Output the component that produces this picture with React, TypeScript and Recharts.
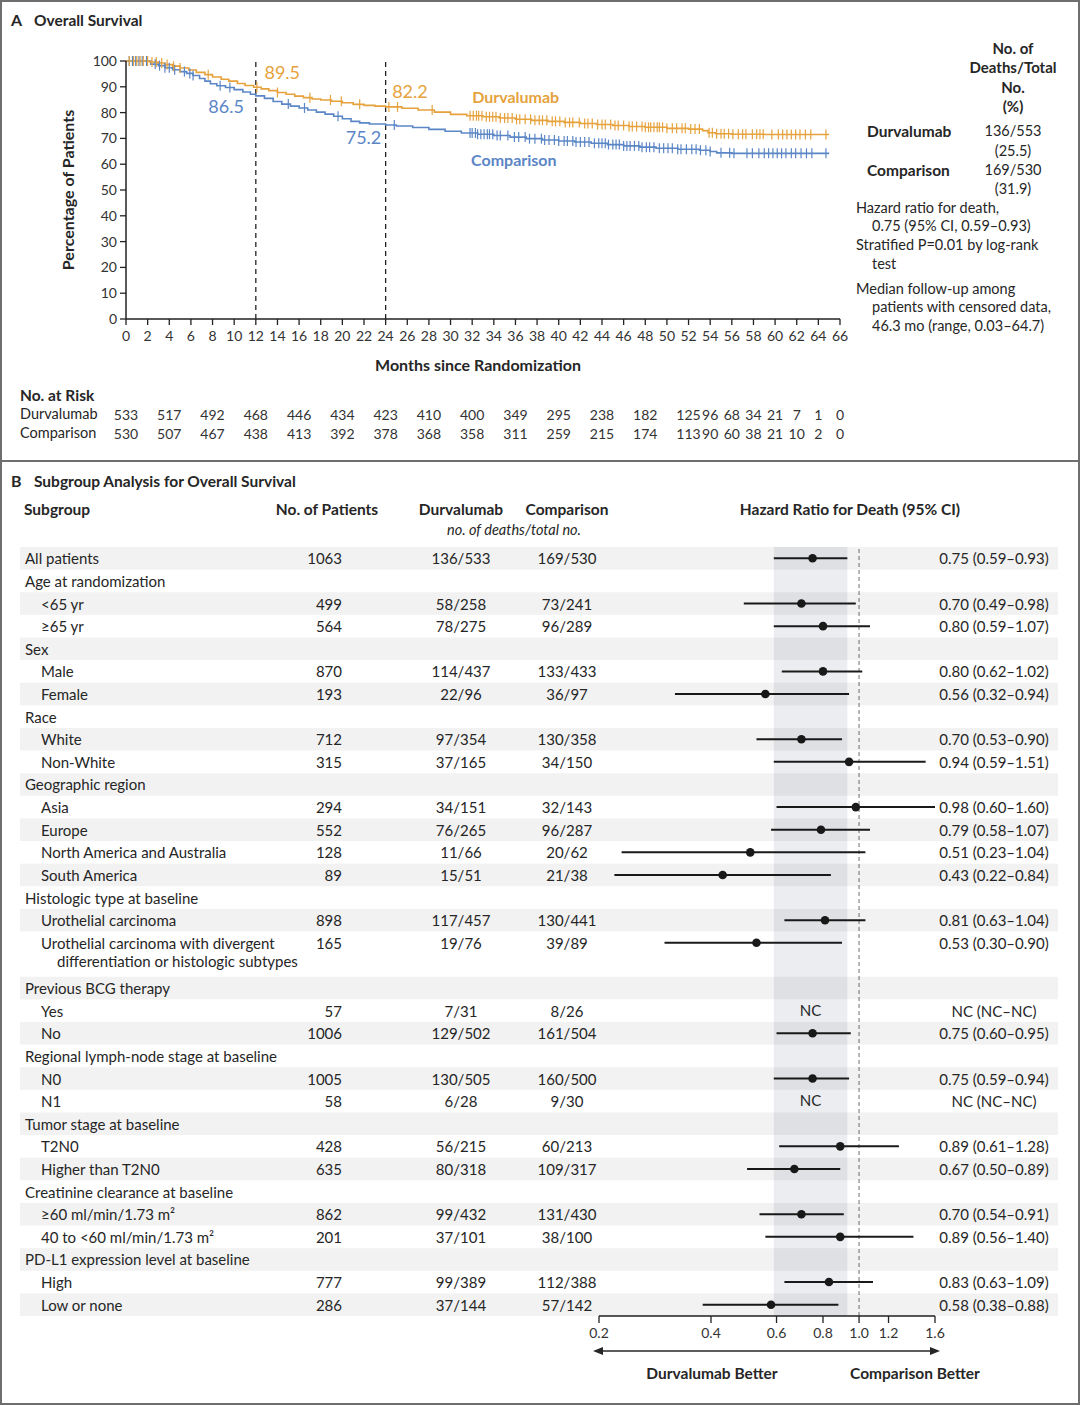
import React from "react";
import {
  ComposedChart,
  Line,
  Scatter,
  XAxis,
  YAxis,
  ReferenceLine,
  ReferenceDot,
  ReferenceArea,
  ErrorBar,
} from "recharts";

const FONT = "Lato, 'Open Sans', sans-serif";
const ORANGE = "#E6A23C";
const BLUE = "#5B86C6";
const INK = "#262626";

// ---- Panel A: Kaplan-Meier curves (month, % alive) ----
const durvaMonths = [0, 1.5, 2.2, 3, 3.6, 4.3, 5, 5.8, 6.5, 7.3, 8, 8.8, 9.5, 10.3, 11, 11.8, 12.5, 13.2, 14, 14.8, 15.6, 16.4, 17.2, 18, 19, 20, 21, 22, 23, 24, 25.5, 27, 28.5, 30, 31.5, 33, 34.5, 36, 37.5, 39, 40.5, 42, 43.5, 45, 46.5, 48, 50, 52, 53.3, 53.8, 54.5, 56, 59, 65];
const durvaSurv = [100, 100, 99.6, 99.2, 98.6, 98, 97.3, 96.5, 95.6, 94.7, 93.8, 92.9, 92.2, 91.3, 90.5, 89.8, 89.2, 88.5, 87.8, 87.1, 86.4, 85.8, 85.3, 84.9, 84.4, 83.8, 83.2, 82.8, 82.5, 82.2, 81.7, 81, 80.2, 79.3, 78.8, 78.4, 77.9, 77.4, 77, 76.6, 76.2, 75.8, 75.4, 75, 74.6, 74.3, 73.9, 73.6, 73, 72.2, 71.8, 71.6, 71.5, 71.5];
const compMonths = [0, 1.8, 2.3, 3, 3.6, 4.3, 5, 5.6, 6.2, 6.8, 7.3, 7.8, 8.4, 9.2, 10, 10.8, 11.5, 12, 12.8, 13.6, 14.4, 15.2, 16, 16.8, 17.6, 18.4, 19.2, 20, 20.8, 21.6, 22.5, 24, 25, 26.5, 28, 29.5, 31, 32.5, 34, 35.5, 37, 38.5, 40, 41.5, 43, 44.5, 46, 47.5, 49, 51, 53, 54, 54.6, 56, 65];
const compSurv = [100, 100, 98.8, 98.2, 97.4, 96.6, 95.9, 95.2, 94.4, 93.2, 92.2, 91.2, 90.4, 89.7, 88.9, 88, 87.1, 86.5, 85.5, 84.3, 83.3, 82.5, 81.8, 81, 80.2, 79.4, 78.6, 77.6, 76.6, 76, 75.6, 75.2, 74.8, 74.2, 73.5, 72.8, 72.1, 71.6, 71.1, 70.5, 69.9, 69.4, 69, 68.6, 68.1, 67.6, 67.1, 66.6, 66.2, 65.8, 65.4, 64.9, 64.4, 64.2, 64.2];

// censored observations (months)
const durvaCensor = [0.3, 0.7, 1.0, 1.3, 1.6, 2.0, 2.4, 2.8, 3.3, 3.8, 4.4, 5.0, 7.6, 12.1, 14.0, 17.0, 18.9, 19.9, 21.6, 24.3, 25.1, 28.3, 31.8, 32.1, 32.4, 32.6, 32.9, 33.3, 33.6, 33.9, 34.2, 34.6, 35.0, 35.3, 35.7, 36.1, 36.4, 36.9, 37.4, 37.8, 38.2, 38.5, 38.9, 39.4, 39.7, 40.1, 40.6, 41.0, 41.3, 41.9, 42.4, 42.7, 43.1, 43.6, 44.0, 44.3, 44.8, 45.2, 45.5, 46.0, 46.5, 46.8, 47.2, 47.7, 48.0, 48.3, 48.5, 48.8, 49.1, 49.3, 49.6, 50.0, 50.5, 50.9, 51.4, 51.7, 52.2, 52.6, 53.0, 53.9, 54.2, 54.6, 55.0, 55.3, 55.7, 56.1, 56.6, 57.0, 57.3, 57.9, 58.3, 58.6, 58.9, 59.7, 60.3, 60.7, 61.1, 61.5, 61.9, 62.3, 62.8, 63.3, 64.7];
const compCensor = [0.3, 0.6, 0.9, 1.2, 1.5, 1.9, 2.7, 3.1, 3.6, 4.0, 4.5, 5.4, 5.9, 6.2, 8.7, 9.6, 15.0, 16.5, 19.6, 24.8, 31.8, 32.0, 32.3, 32.5, 32.8, 33.1, 33.4, 33.6, 33.9, 34.3, 34.6, 35.3, 35.9, 36.3, 36.9, 37.3, 37.8, 38.4, 38.7, 39.1, 39.6, 40.0, 40.5, 40.8, 41.3, 41.6, 42.0, 42.4, 42.8, 43.3, 43.7, 44.0, 44.3, 44.6, 45.0, 45.3, 45.6, 46.0, 46.3, 46.6, 47.0, 47.4, 47.7, 48.1, 48.4, 48.8, 49.3, 49.7, 50.1, 50.5, 51.0, 51.3, 51.8, 52.3, 52.7, 53.1, 53.6, 54.0, 55.0, 55.8, 56.2, 57.4, 57.9, 58.5, 59.0, 59.4, 59.8, 60.2, 60.6, 61.0, 61.5, 61.9, 62.4, 62.9, 63.4, 64.7];

const monthTicks = [0, 2, 4, 6, 8, 10, 12, 14, 16, 18, 20, 22, 24, 26, 28, 30, 32, 34, 36, 38, 40, 42, 44, 46, 48, 50, 52, 54, 56, 58, 60, 62, 64, 66];
const pctTicks = [0, 10, 20, 30, 40, 50, 60, 70, 80, 90, 100];
const landmarkMonths = [12, 24];

const riskMonths = [0, 4, 8, 12, 16, 20, 24, 28, 32, 36, 40, 44, 48, 52, 54, 56, 58, 60, 62, 64, 66];
const riskDurva = [533, 517, 492, 468, 446, 434, 423, 410, 400, 349, 295, 238, 182, 125, 96, 68, 34, 21, 7, 1, 0];
const riskComp = [530, 507, 467, 438, 413, 392, 378, 368, 358, 311, 259, 215, 174, 113, 90, 60, 38, 21, 10, 2, 0];

// ---- Panel B: subgroup forest plot ----
const subgroups = [
  "All patients", "Age at randomization", "<65 yr", "≥65 yr", "Sex", "Male", "Female", "Race", "White", "Non-White",
  "Geographic region", "Asia", "Europe", "North America and Australia", "South America", "Histologic type at baseline",
  "Urothelial carcinoma", "Urothelial carcinoma with divergent\ndifferentiation or histologic subtypes", "Previous BCG therapy",
  "Yes", "No", "Regional lymph-node stage at baseline", "N0", "N1", "Tumor stage at baseline", "T2N0", "Higher than T2N0",
  "Creatinine clearance at baseline", "≥60 ml/min/1.73 m²", "40 to <60 ml/min/1.73 m²", "PD-L1 expression level at baseline",
  "High", "Low or none",
];
const subgroupLevels = [0, 0, 1, 1, 0, 1, 1, 0, 1, 1, 0, 1, 1, 1, 1, 0, 1, 1, 0, 1, 1, 0, 1, 1, 0, 1, 1, 0, 1, 1, 0, 1, 1];
const patients = [1063, null, 499, 564, null, 870, 193, null, 712, 315, null, 294, 552, 128, 89, null, 898, 165, null, 57, 1006, null, 1005, 58, null, 428, 635, null, 862, 201, null, 777, 286];
const durvaDeaths = ["136/533", null, "58/258", "78/275", null, "114/437", "22/96", null, "97/354", "37/165", null, "34/151", "76/265", "11/66", "15/51", null, "117/457", "19/76", null, "7/31", "129/502", null, "130/505", "6/28", null, "56/215", "80/318", null, "99/432", "37/101", null, "99/389", "37/144"];
const compDeaths = ["169/530", null, "73/241", "96/289", null, "133/433", "36/97", null, "130/358", "34/150", null, "32/143", "96/287", "20/62", "21/38", null, "130/441", "39/89", null, "8/26", "161/504", null, "160/500", "9/30", null, "60/213", "109/317", null, "131/430", "38/100", null, "112/388", "57/142"];
const hrValues = [0.75, null, 0.70, 0.80, null, 0.80, 0.56, null, 0.70, 0.94, null, 0.98, 0.79, 0.51, 0.43, null, 0.81, 0.53, null, null, 0.75, null, 0.75, null, null, 0.89, 0.67, null, 0.70, 0.89, null, 0.83, 0.58];
const hrLow = [0.59, null, 0.49, 0.59, null, 0.62, 0.32, null, 0.53, 0.59, null, 0.60, 0.58, 0.23, 0.22, null, 0.63, 0.30, null, null, 0.60, null, 0.59, null, null, 0.61, 0.50, null, 0.54, 0.56, null, 0.63, 0.38];
const hrHigh = [0.93, null, 0.98, 1.07, null, 1.02, 0.94, null, 0.90, 1.51, null, 1.60, 1.07, 1.04, 0.84, null, 1.04, 0.90, null, null, 0.95, null, 0.94, null, null, 1.28, 0.89, null, 0.91, 1.40, null, 1.09, 0.88];
const hrTicks = [0.2, 0.4, 0.6, 0.8, 1.0, 1.2, 1.6];

// row slots: a two-line label takes two slots
const rowSlots: number[] = [];
subgroups.forEach((s, i) => {
  rowSlots.push(i === 0 ? 0 : rowSlots[i - 1] + (subgroups[i - 1].includes("\n") ? 2 : 1));
});
const slotCount = rowSlots[rowSlots.length - 1] + 1;

const curve = (months: number[], surv: number[]) => months.map((t, i) => ({ t, s: surv[i] }));
const survAt = (months: number[], surv: number[], t: number) => {
  let v = surv[0];
  months.forEach((m, i) => {
    if (m <= t) v = surv[i];
  });
  return v;
};
const durvaCurve = curve(durvaMonths, durvaSurv);
const compCurve = curve(compMonths, compSurv);
const durvaMarks = durvaCensor.map((t) => ({ t, s: survAt(durvaMonths, durvaSurv, t) }));
const compMarks = compCensor.map((t) => ({ t, s: survAt(compMonths, compSurv, t) }));

const forestPoints = subgroups
  .map((_, i) => ({ slot: rowSlots[i], hr: hrValues[i], err: [0, 0] as number[], i }))
  .filter((p) => p.hr !== null)
  .map((p) => ({ ...p, err: [(p.hr as number) - (hrLow[p.i] as number), (hrHigh[p.i] as number) - (p.hr as number)] }));
const ncRows = subgroups.map((_, i) => i).filter((i) => patients[i] !== null && hrValues[i] === null);
const overallLow = hrLow[0] as number;
const overallHigh = hrHigh[0] as number;

const hrText = (i: number) => {
  if (patients[i] === null) return "";
  if (hrValues[i] === null) return "NC (NC–NC)";
  return `${(hrValues[i] as number).toFixed(2)} (${(hrLow[i] as number).toFixed(2)}–${(hrHigh[i] as number).toFixed(2)})`;
};

const Txt = ({ x, y, children, anchor = "start", bold = false, italic = false, size = 14.5, color = INK }: any) => (
  <div
    style={{
      position: "absolute",
      left: x,
      top: y,
      transform: `translate(${anchor === "middle" ? "-50%" : anchor === "end" ? "-100%" : "0"}, -50%)`,
      fontSize: size,
      fontWeight: bold ? 700 : 400,
      fontStyle: italic ? "italic" : "normal",
      color,
      whiteSpace: "nowrap",
      lineHeight: 1.2,
      textAlign: anchor === "middle" ? "center" : "left",
    }}
  >
    {children}
  </div>
);

const CensorTick = (color: string) => (props: any) => {
  const { cx, cy } = props;
  if (cx == null || cy == null) return <g />;
  return <line x1={cx} x2={cx} y1={cy - 5} y2={cy + 5} stroke={color} strokeWidth={1.2} />;
};

// both at-risk rows drawn from one axis so they share the month scale
const RiskTick = (props: any) => {
  const { x, y, payload } = props;
  const k = riskMonths.indexOf(payload.value);
  if (k < 0) return <g />;
  const ts = { fontSize: 14, fill: "#333", fontFamily: FONT, textAnchor: "middle" as const, dominantBaseline: "central" as const };
  return (
    <g>
      <text x={x} y={y + 33} {...ts}>{riskDurva[k]}</text>
      <text x={x} y={y + 52} {...ts}>{riskComp[k]}</text>
    </g>
  );
};

const ROW_PX = 769 / 34;

const RowTick = (props: any) => {
  const { y, payload } = props;
  const i = rowSlots.indexOf(payload.value);
  if (i < 0) return <g />;
  const lines = subgroups[i].split("\n");
  const span = lines.length > 1 ? 2 : 1;
  const x0 = subgroupLevels[i] ? 41 : 25;
  const ts = { fontSize: 15, fill: INK, fontFamily: FONT };
  return (
    <g>
      {i % 2 === 0 && (
        <rect x={20} y={y - ROW_PX / 2} width={1038} height={ROW_PX * span} fill="rgba(0,0,0,0.05)" />
      )}
      <text x={x0} y={y} dominantBaseline="central" {...ts}>
        {lines[0]}
      </text>
      {lines[1] && (
        <text x={x0 + 16} y={y + 18} dominantBaseline="central" {...ts}>
          {lines[1]}
        </text>
      )}
      {patients[i] !== null && (
        <>
          <text x={342} y={y} dominantBaseline="central" textAnchor="end" {...ts}>
            {patients[i]}
          </text>
          <text x={461} y={y} dominantBaseline="central" textAnchor="middle" {...ts}>
            {durvaDeaths[i]}
          </text>
          <text x={567} y={y} dominantBaseline="central" textAnchor="middle" {...ts}>
            {compDeaths[i]}
          </text>
          <text x={994} y={y} dominantBaseline="central" textAnchor="middle" {...ts}>
            {hrText(i)}
          </text>
        </>
      )}
    </g>
  );
};

const BetterLabel = (props: any) => {
  const { viewBox } = props;
  if (!viewBox) return null;
  const { x, y, width } = viewBox;
  const ay = y + 35;
  const l = x - 6;
  const r = x + width + 5;
  return (
    <g>
      <line x1={l + 6} x2={r - 6} y1={ay} y2={ay} stroke={INK} strokeWidth={1.4} />
      <polygon points={`${l},${ay} ${l + 10},${ay - 4} ${l + 10},${ay + 4}`} fill={INK} />
      <polygon points={`${r},${ay} ${r - 10},${ay - 4} ${r - 10},${ay + 4}`} fill={INK} />
      <text x={x + 113} y={ay + 22} textAnchor="middle" dominantBaseline="central" fontWeight={700} fontSize={15.5} fill={INK} fontFamily={FONT}>
        Durvalumab Better
      </text>
      <text x={x + 316} y={ay + 22} textAnchor="middle" dominantBaseline="central" fontWeight={700} fontSize={15.5} fill={INK} fontFamily={FONT}>
        Comparison Better
      </text>
    </g>
  );
};

const tickStyle = { fontSize: 14, fill: "#333", fontFamily: FONT };

export default function App() {
  return (
    <div style={{ position: "absolute", left: 0, top: 0, width: 1080, height: 1405, background: "#fff", fontFamily: FONT, color: INK, overflow: "hidden" }}>
      {/* Panel A */}
      <Txt x={11} y={20} bold size={16}>A</Txt>
      <Txt x={34} y={20} bold size={15.5}>Overall Survival</Txt>
      <div style={{ position: "absolute", left: 0, top: 0 }}>
        <ComposedChart width={860} height={445} margin={{ top: 61, right: 20, bottom: 5, left: 40 }}>
          <XAxis
            dataKey="t"
            type="number"
            domain={[0, 66]}
            allowDataOverflow
            ticks={monthTicks}
            interval={0}
            height={62}
            tick={tickStyle}
            tickSize={6}
            tickMargin={6}
            axisLine={{ stroke: "#222", strokeWidth: 1.5 }}
            tickLine={{ stroke: "#222", strokeWidth: 1.3 }}
            label={{ value: "Months since Randomization", position: "insideBottom", offset: 10, fontSize: 16, fontWeight: 700, fill: INK, dx: -5 }}
          />
          <XAxis
            xAxisId="risk"
            dataKey="t"
            type="number"
            domain={[0, 66]}
            allowDataOverflow
            ticks={riskMonths}
            interval={0}
            height={59}
            axisLine={false}
            tickLine={false}
            tickSize={0}
            tickMargin={0}
            tick={(p: any) => <RiskTick {...p} />}
          />
          <YAxis
            dataKey="s"
            type="number"
            domain={[0, 100]}
            ticks={pctTicks}
            interval={0}
            width={86}
            tick={tickStyle}
            tickSize={6}
            tickMargin={3}
            axisLine={{ stroke: "#222", strokeWidth: 1.5 }}
            tickLine={{ stroke: "#222", strokeWidth: 1.3 }}
            label={{ value: "Percentage of Patients", angle: -90, position: "insideLeft", offset: 28, style: { textAnchor: "middle" }, fontSize: 16, fontWeight: 700, fill: INK }}
          />
          {landmarkMonths.map((m) => (
            <ReferenceLine key={m} x={m} stroke="#222" strokeDasharray="5 4" strokeWidth={1.3} />
          ))}
          <Line data={compCurve} dataKey="s" type="stepAfter" stroke={BLUE} strokeWidth={1.6} dot={false} isAnimationActive={false} />
          <Line data={durvaCurve} dataKey="s" type="stepAfter" stroke={ORANGE} strokeWidth={1.6} dot={false} isAnimationActive={false} />
          <Scatter data={compMarks} dataKey="s" shape={CensorTick(BLUE)} isAnimationActive={false} />
          <Scatter data={durvaMarks} dataKey="s" shape={CensorTick(ORANGE)} isAnimationActive={false} />
          <ReferenceDot x={12.8} y={95.4} r={0} label={{ value: "89.5", position: "right", offset: 0, fontSize: 18, fill: ORANGE }} />
          <ReferenceDot x={10.9} y={82.2} r={0} label={{ value: "86.5", position: "left", offset: 0, fontSize: 18, fill: BLUE }} />
          <ReferenceDot x={24.6} y={88} r={0} label={{ value: "82.2", position: "right", offset: 0, fontSize: 18, fill: ORANGE }} />
          <ReferenceDot x={23.6} y={70.5} r={0} label={{ value: "75.2", position: "left", offset: 0, fontSize: 18, fill: BLUE }} />
          <ReferenceDot x={32} y={86} r={0} label={{ value: "Durvalumab", position: "right", offset: 0, fontSize: 16, fontWeight: 700, fill: ORANGE }} />
          <ReferenceDot x={31.9} y={61.6} r={0} label={{ value: "Comparison", position: "right", offset: 0, fontSize: 16, fontWeight: 700, fill: BLUE }} />
        </ComposedChart>
      </div>

      <Txt x={1013} y={48} anchor="middle" bold size={15}>No. of</Txt>
      <Txt x={1013} y={67} anchor="middle" bold size={15}>Deaths/Total</Txt>
      <Txt x={1013} y={87} anchor="middle" bold size={15}>No.</Txt>
      <Txt x={1013} y={106} anchor="middle" bold size={15}>(%)</Txt>
      <Txt x={867} y={131} bold size={15.5}>Durvalumab</Txt>
      <Txt x={1013} y={131} anchor="middle">136/553</Txt>
      <Txt x={1013} y={151} anchor="middle">(25.5)</Txt>
      <Txt x={867} y={170} bold size={15.5}>Comparison</Txt>
      <Txt x={1013} y={170} anchor="middle">169/530</Txt>
      <Txt x={1013} y={189} anchor="middle">(31.9)</Txt>
      <Txt x={856} y={208}>Hazard ratio for death,</Txt>
      <Txt x={872} y={226}>0.75 (95% CI, 0.59–0.93)</Txt>
      <Txt x={856} y={245}>Stratified P=0.01 by log-rank</Txt>
      <Txt x={872} y={264}>test</Txt>
      <Txt x={856} y={289}>Median follow-up among</Txt>
      <Txt x={872} y={307}>patients with censored data,</Txt>
      <Txt x={872} y={326}>46.3 mo (range, 0.03–64.7)</Txt>

      <Txt x={20} y={395} bold size={15.5}>No. at Risk</Txt>
      <Txt x={20} y={414}>Durvalumab</Txt>
      <Txt x={20} y={433}>Comparison</Txt>

      <div style={{ position: "absolute", left: 0, top: 460, width: 1080, height: 2, background: "#6e6e6e" }} />

      {/* Panel B */}
      <Txt x={11} y={481} bold size={16}>B</Txt>
      <Txt x={34} y={481} bold size={15.5}>Subgroup Analysis for Overall Survival</Txt>
      <Txt x={24} y={509} bold size={15.5}>Subgroup</Txt>
      <Txt x={327} y={509} anchor="middle" bold size={15.5}>No. of Patients</Txt>
      <Txt x={461} y={509} anchor="middle" bold size={15.5}>Durvalumab</Txt>
      <Txt x={567} y={509} anchor="middle" bold size={15.5}>Comparison</Txt>
      <Txt x={514} y={530} anchor="middle" italic size={14.5}>no. of deaths/total no.</Txt>
      <Txt x={850} y={509} anchor="middle" bold size={15.5}>Hazard Ratio for Death (95% CI)</Txt>

      <div style={{ position: "absolute", left: 0, top: 540 }}>
        <ComposedChart width={1080} height={865} margin={{ top: 7, right: 145, bottom: 0, left: 24 }}>
          <XAxis
            dataKey="hr"
            type="number"
            scale="log"
            domain={[0.2, 1.6]}
            allowDataOverflow
            ticks={hrTicks}
            interval={0}
            height={89}
            tick={tickStyle}
            tickSize={7}
            tickMargin={5}
            tickFormatter={(v: number) => v.toFixed(1)}
            axisLine={{ stroke: "#222", strokeWidth: 1.4 }}
            tickLine={{ stroke: "#222", strokeWidth: 1.3 }}
            label={(p: any) => <BetterLabel {...p} />}
          />
          <YAxis
            dataKey="slot"
            type="number"
            domain={[-0.5, slotCount - 0.5]}
            reversed
            allowDataOverflow
            ticks={rowSlots}
            interval={0}
            width={575}
            axisLine={false}
            tickLine={false}
            tickSize={0}
            tick={(p: any) => <RowTick {...p} />}
          />
          <ReferenceArea x1={overallLow} x2={overallHigh} y1={-0.5} y2={slotCount - 0.5} fill="rgba(60,80,115,0.1)" fillOpacity={1} stroke="none" />
          <ReferenceLine x={1} stroke="#9a9a9a" strokeDasharray="4 3" strokeWidth={1.4} />
          <Scatter
            data={forestPoints}
            dataKey="slot"
            fill="#1a1a1a"
            isAnimationActive={false}
            shape={(p: any) => <circle cx={p.cx} cy={p.cy} r={4.3} fill="#1a1a1a" />}
          >
            <ErrorBar dataKey="err" direction="x" width={0} stroke="#1a1a1a" strokeWidth={2} />
          </Scatter>
          {ncRows.map((i) => (
            <ReferenceDot
              key={i}
              x={Math.sqrt(overallLow * overallHigh)}
              y={rowSlots[i]}
              r={0}
              label={{ value: "NC", position: "center", fontSize: 15, fill: INK }}
            />
          ))}
        </ComposedChart>
      </div>

      <div style={{ position: "absolute", left: 0, top: 0, width: 1080, height: 1405, border: "2px solid #6e6e6e", boxSizing: "border-box", pointerEvents: "none" }} />
    </div>
  );
}
